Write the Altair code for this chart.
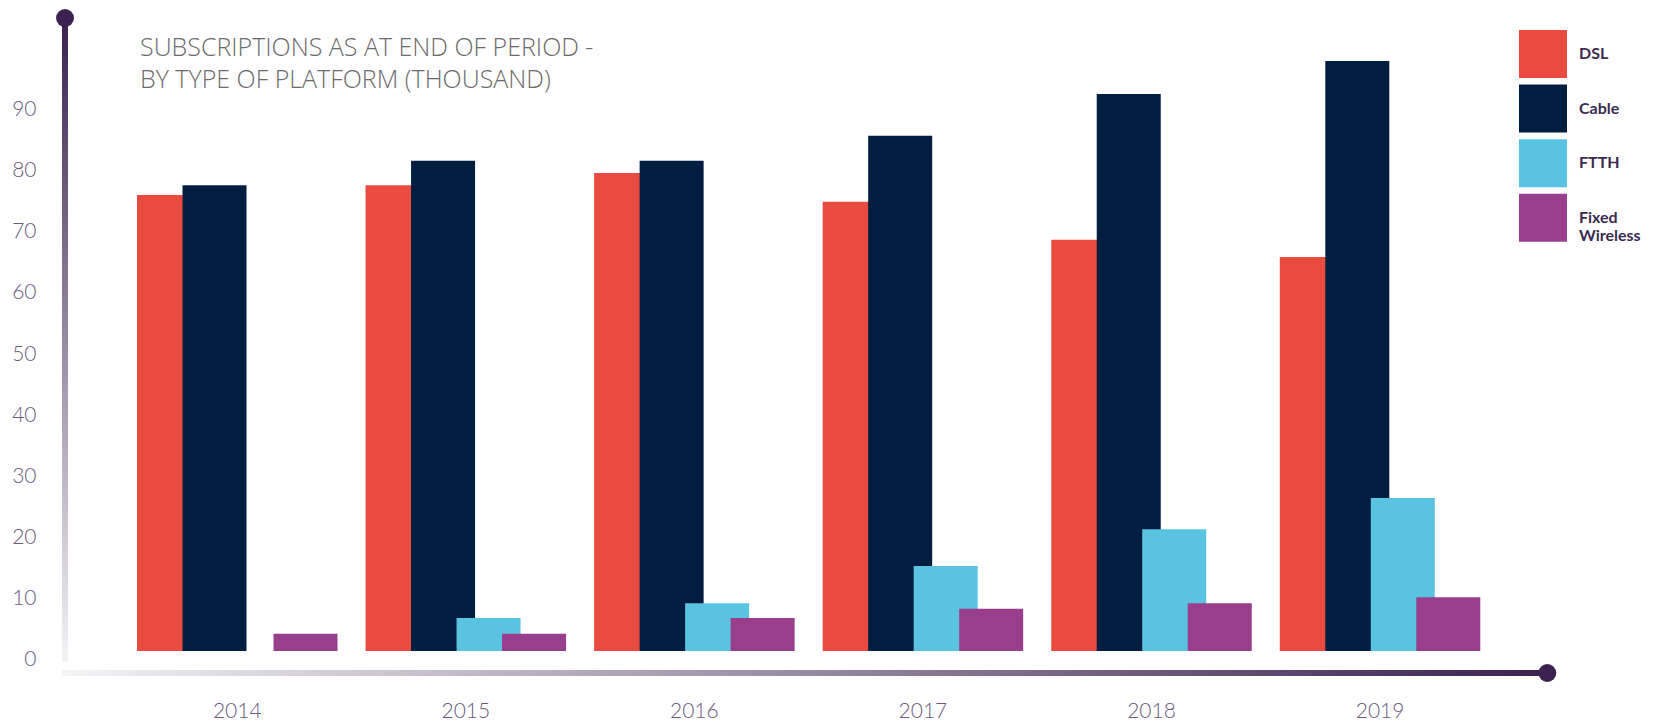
import altair as alt
import pandas as pd

# ---- data ----
years = ["2014", "2015", "2016", "2017", "2018", "2019"]
platforms = ["DSL", "Cable", "FTTH", "Fixed Wireless"]
dsl = [74.5, 76.1, 78.1, 73.4, 67.2, 64.4]
cable = [76.1, 80.1, 80.1, 84.2, 91.0, 96.4]
ftth = [0.0, 5.4, 7.8, 13.9, 19.9, 25.0]
fixed_wireless = [2.8, 2.8, 5.4, 6.9, 7.8, 8.8]
y_ticks = [0, 10, 20, 30, 40, 50, 60, 70, 80, 90]
title_lines = ["SUBSCRIPTIONS AS AT END OF PERIOD -", "BY TYPE OF PLATFORM (THOUSAND)"]
colors = ["#e94b3e", "#011d40", "#5bc3e2", "#993d8d"]

series = {"DSL": dsl, "Cable": cable, "FTTH": ftth, "Fixed Wireless": fixed_wireless}
rows = []
for p in platforms:
    for y, v in zip(years, series[p]):
        rows.append({"year": y, "platform": p, "value": v})
df = pd.DataFrame(rows)

W = 1477.3
H = 641
DARK = "#3b2150"
LIGHT = "#f4f3f6"
LABEL_COLOR = "#6a5b7e"

bars = alt.Chart(df).mark_bar(width=64).encode(
    x=alt.X("year:N", sort=years, title=None,
            scale=alt.Scale(paddingInner=0.2037, paddingOuter=0.3336),
            axis=alt.Axis(domain=False, ticks=False, tickSize=0, labelAngle=0,
                          labelPadding=61, labelBaseline="middle",
                          labelFont="Lato", labelFontWeight=300, labelFontSize=21,
                          labelColor=LABEL_COLOR)),
    xOffset=alt.XOffset("platform:N",
                        scale=alt.Scale(domain=platforms, paddingInner=0, paddingOuter=0)),
    y=alt.Y("value:Q", title=None,
            scale=alt.Scale(domain=[0, 104.74], nice=False, zero=True),
            axis=alt.Axis(values=y_ticks, grid=False, domain=False, ticks=False, tickSize=0,
                          labelPadding=34, labelOffset=9,
                          labelFont="Lato", labelFontWeight=300, labelFontSize=21,
                          labelColor=LABEL_COLOR)),
    color=alt.Color("platform:N", title=None,
                    scale=alt.Scale(domain=platforms, range=colors),
                    legend=alt.Legend(orient="none", legendX=1449, legendY=20,
                                      symbolType="square", symbolSize=2304,
                                      symbolOpacity=1, symbolStrokeWidth=0,
                                      rowPadding=6.6, padding=0, offset=0,
                                      labelOffset=12, labelFont="Lato",
                                      labelFontWeight="bold", labelFontSize=16,
                                      labelColor="#3b2b50",
                                      labelExpr="datum.label == 'Fixed Wireless' ? ['Fixed', 'Wireless'] : datum.label")),
)

one = pd.DataFrame({"a": [0]})

v_grad = alt.LinearGradient(gradient="linear", x1=0, y1=0, x2=0, y2=1,
                            stops=[alt.GradientStop(color=DARK, offset=0),
                                   alt.GradientStop(color=LIGHT, offset=1)])
h_grad = alt.LinearGradient(gradient="linear", x1=0, y1=0, x2=1, y2=0,
                            stops=[alt.GradientStop(color=LIGHT, offset=0),
                                   alt.GradientStop(color=DARK, offset=1)])

v_axis = alt.Chart(one).mark_rect(color=v_grad).encode(
    x=alt.value(-8), x2=alt.value(-2), y=alt.value(8), y2=alt.value(652))
h_axis = alt.Chart(one).mark_rect(color=h_grad).encode(
    x=alt.value(-8), x2=alt.value(W), y=alt.value(660), y2=alt.value(666))
dot_top = alt.Chart(one).mark_circle(size=320, opacity=1, color=DARK).encode(
    x=alt.value(-5), y=alt.value(8))
dot_right = alt.Chart(one).mark_circle(size=320, opacity=1, color=DARK).encode(
    x=alt.value(W), y=alt.value(663))

title = alt.Chart(one).mark_text(align="left", baseline="alphabetic", font="Open Sans",
                                 fontWeight=300, fontSize=25, lineHeight=32,
                                 color="#6b6b6b").encode(
    x=alt.value(70), y=alt.value(46), text=alt.value(title_lines))

chart = alt.layer(v_axis, h_axis, bars, dot_top, dot_right, title).properties(
    width=W, height=H,
    padding={"left": 62, "top": 2, "right": 108, "bottom": 72},
    autosize=alt.AutoSizeParams(type="none"),
).configure_view(strokeWidth=0)

chart.save("out.html", embed_options={"renderer": "svg", "actions": False})
